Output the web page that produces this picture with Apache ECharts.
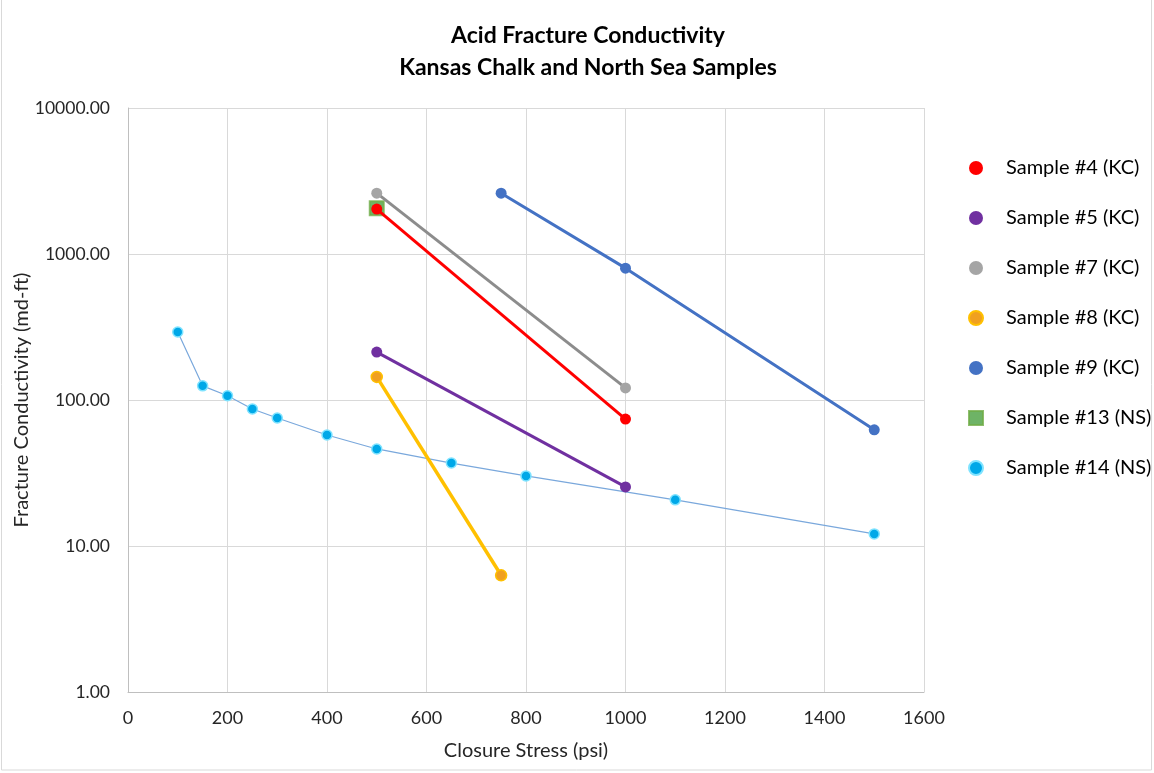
<!DOCTYPE html>
<html><head><meta charset="utf-8">
<script src="https://cdn.jsdelivr.net/npm/echarts@6/dist/echarts.min.js"></script>
<style>html,body{margin:0;padding:0;background:#fff}#c{width:1154px;height:773px}</style>
</head><body><div id="c"></div>
<script>
const titleLines = ['Acid Fracture Conductivity', 'Kansas Chalk and North Sea Samples'];
const xAxisName = 'Closure Stress (psi)';
const yAxisName = 'Fracture Conductivity (md-ft)';
const seriesNames = ['Sample #4 (KC)','Sample #5 (KC)','Sample #7 (KC)','Sample #8 (KC)','Sample #9 (KC)','Sample #13 (NS)','Sample #14 (NS)'];
const s4x = [500, 1000],  s4y = [2030, 74];
const s5x = [500, 1000],  s5y = [213, 25.4];
const s7x = [500, 1000],  s7y = [2610, 121];
const s8x = [500, 750],   s8y = [144, 6.3];
const s9x = [750, 1000, 1500], s9y = [2610, 800, 62.5];
const s13x = [500], s13y = [2060];
const s14x = [100, 150, 200, 250, 300, 400, 500, 650, 800, 1100, 1500];
const s14y = [292, 125, 107, 86.8, 75.3, 57.6, 46.2, 37.0, 30.2, 20.7, 12.1];

const zip = (xs, ys) => xs.map((x, i) => [x, ys[i]]);
const FONT = 'Lato';
const lineSeries = (name, xs, ys, color, lineColor, lw) => ({
  name, type: 'line', data: zip(xs, ys), symbol: 'circle', symbolSize: 11,
  itemStyle: { color: color }, lineStyle: { color: lineColor, width: lw }, z: 3
});
const chart = echarts.init(document.getElementById('c'));
chart.setOption({
  animation: false,
  textStyle: { fontFamily: FONT },
  title: {
    text: titleLines.join('\n'), left: 583, textAlign: 'center', top: 15,
    textStyle: { fontFamily: FONT, fontWeight: 'bold', fontSize: 23, lineHeight: 32, color: '#000' }
  },
  grid: { left: 128, right: 230, top: 108, bottom: 81, containLabel: false, outerBoundsMode: 'none' },
  legend: {
    orient: 'vertical', left: 963, top: 153, itemGap: 30, itemWidth: 14, itemHeight: 14,
    textStyle: { fontFamily: FONT, fontSize: 20, color: '#000', padding: [0, 0, 0, 18] },
    data: seriesNames.map((n, i) => ({ name: n, icon: i === 5 ? 'rect' : 'circle' }))
  },
  xAxis: {
    type: 'value', min: 0, max: 1600, interval: 200,
    name: xAxisName, nameLocation: 'middle', nameGap: 49,
    nameTextStyle: { fontFamily: FONT, fontSize: 20, color: '#262626' },
    axisLine: { show: true, lineStyle: { color: '#bfbfbf' } },
    axisTick: { show: false },
    axisLabel: { fontFamily: FONT, fontSize: 18, color: '#262626', margin: 17, formatter: v => String(v) },
    splitLine: { show: true, lineStyle: { color: '#d9d9d9' } }
  },
  yAxis: {
    type: 'log', logBase: 10, min: 1, max: 10000,
    name: yAxisName, nameLocation: 'middle', nameGap: 96, nameMoveOverlap: false,
    nameTextStyle: { fontFamily: FONT, fontSize: 20, color: '#262626' },
    axisLine: { show: true, lineStyle: { color: '#bfbfbf' } },
    axisTick: { show: false },
    axisLabel: { fontFamily: FONT, fontSize: 17.5, color: '#262626', margin: 18, formatter: v => Number(v).toFixed(2) },
    splitLine: { show: true, lineStyle: { color: '#d9d9d9' } }
  },
  graphic: [{ type: 'rect', shape: { x: 1.5, y: -5, width: 1150, height: 775 }, style: { fill: null, stroke: '#d9d9d9', lineWidth: 1 }, silent: true }],
  series: [
    lineSeries(seriesNames[0], s4x, s4y, '#ff0000', '#ff0000', 3),
    lineSeries(seriesNames[1], s5x, s5y, '#7030a0', '#7030a0', 3),
    lineSeries(seriesNames[2], s7x, s7y, '#a5a5a5', '#8c8c8c', 3),
    Object.assign(lineSeries(seriesNames[3], s8x, s8y, '#f5a000', '#ffc000', 3.5), { itemStyle: { color: '#f0a020', borderColor: '#ffc000', borderWidth: 1.5 } }),
    lineSeries(seriesNames[4], s9x, s9y, '#4472c4', '#4472c4', 3),
    { name: seriesNames[5], type: 'scatter', data: zip(s13x, s13y), symbol: 'rect', symbolSize: 14,
      itemStyle: { color: '#4aa040', borderColor: '#70ad47', borderWidth: 2 }, z: 2 },
    { name: seriesNames[6], type: 'line', data: zip(s14x, s14y), symbol: 'circle', symbolSize: 10,
      itemStyle: { color: '#00a8e8', borderColor: '#7fe3ff', borderWidth: 1.5 },
      lineStyle: { color: '#7aa8dc', width: 1.2 }, z: 1 }
  ]
});
</script></body></html>
